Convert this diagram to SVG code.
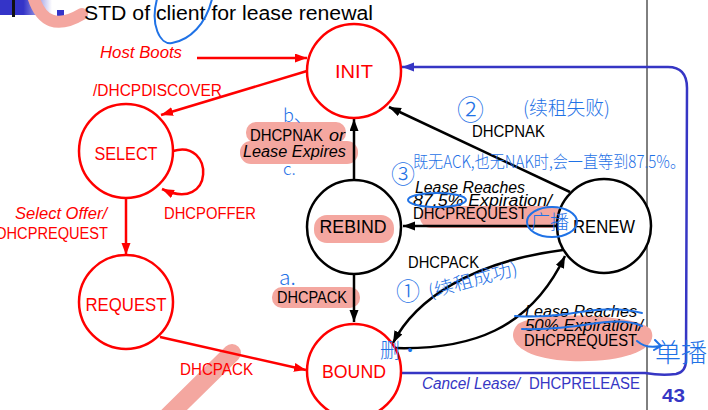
<svg xmlns="http://www.w3.org/2000/svg" width="708" height="410" viewBox="0 0 708 410">
<style>
.t{font-family:"Liberation Sans",Arial,sans-serif;}
.lbl{font-size:16px;}
.node{font-size:19px;text-anchor:middle;}
.red{fill:#ff0000;}
.blk{fill:#000;}
.blu{fill:#3636c4;}
.it{font-style:italic;}
.hand{font-family:"Noto Sans CJK SC",sans-serif;fill:#1f72e6;font-weight:300;}
.hl{fill:#f4a7a0;}
.hs{fill:none;stroke:#1f72e6;stroke-width:2;stroke-linecap:round;}
.cr{fill:#fff;stroke:#ff0000;stroke-width:2.5;}
.cb{fill:#fff;stroke:#000;stroke-width:2.5;}
.lr{fill:none;stroke:#ff0000;stroke-width:2.5;}
.lk{fill:none;stroke:#000;stroke-width:2.5;}
.lb{fill:none;stroke:#3636c4;stroke-width:2.5;stroke-linejoin:round;}
</style>
<defs>
<linearGradient id="g1" x1="0" x2="1" y1="0" y2="0">
<stop offset="0" stop-color="#3434c8"/>
<stop offset="0.45" stop-color="#3434c8"/>
<stop offset="1" stop-color="#ffffff"/>
</linearGradient>
<marker id="ar" markerUnits="userSpaceOnUse" markerWidth="13" markerHeight="10" refX="12" refY="4.5" orient="auto"><path d="M0,0 L12,4.5 L0,9 Z" fill="#ff0000"/></marker>
<marker id="ak" markerUnits="userSpaceOnUse" markerWidth="13" markerHeight="10" refX="12" refY="4.5" orient="auto"><path d="M0,0 L12,4.5 L0,9 Z" fill="#000"/></marker>
<marker id="ab" markerUnits="userSpaceOnUse" markerWidth="13" markerHeight="10" refX="12" refY="4.5" orient="auto"><path d="M0,0 L12,4.5 L0,9 Z" fill="#3636c4"/></marker>
</defs>
<rect width="708" height="410" fill="#fff"/>
<!-- header decoration -->
<rect x="0" y="0" width="52" height="15" fill="url(#g1)"/>
<rect x="12" y="0" width="3" height="17" fill="#111"/>
<rect x="57" y="10" width="7" height="7" fill="#3434c8"/>
<line x1="647" y1="0" x2="647" y2="410" stroke="#000" stroke-width="1"/>
<!-- highlights -->
<g id="highlights">
<path d="M33,-4 Q45,36 82,14" fill="none" stroke="#f4a7a0" stroke-width="12" stroke-linecap="round"/>
<rect class="hl" x="246" y="122" width="100" height="21" rx="10"/>
<rect class="hl" x="240" y="141" width="118" height="23" rx="11"/>
<rect class="hl" x="420" y="206" width="142" height="22" rx="11"/>
<rect class="hl" x="272" y="287" width="88" height="21" rx="10"/>
<path class="hl" d="M518,324 C540,310 640,314 651,330 C660,350 622,363 570,361 C522,359 503,340 518,324 Z"/>
<path d="M232,353 L166,418" fill="none" stroke="#f4a7a0" stroke-width="18" stroke-linecap="round"/>
</g>
<text class="t" x="84" y="20" font-size="20" textLength="289" lengthAdjust="spacingAndGlyphs" fill="#000">STD of client for lease renewal</text>
<!-- connectors -->
<g id="connectors">
<path class="lr" d="M197,58 L307,58" marker-end="url(#ar)"/>
<path class="lr" d="M307,71 L161,115" marker-end="url(#ar)"/>
<path class="lr" d="M173,151 C214,138 216,214 162,189" marker-end="url(#ar)"/>
<path class="lr" d="M126,198 L126,255" marker-end="url(#ar)"/>
<path class="lr" d="M160,337 L306,370" marker-end="url(#ar)"/>
<path class="lk" d="M354,200 L354,119" marker-end="url(#ak)"/>
<path class="lk" d="M354,275 L354,322" marker-end="url(#ak)"/>
<path class="lk" d="M570,192 L389,107" marker-end="url(#ak)"/>
<path class="lk" d="M557,226 L403,226" marker-end="url(#ak)"/>
<path class="lk" d="M563,250 C470,262 415,300 393,343" marker-end="url(#ak)"/>
<path class="lk" d="M395,348 C470,350 530,330 565,256" marker-end="url(#ak)"/>
<path class="lb" d="M401,373 L645,373 Q662,376 676,374 Q686,372 686,360 L687,88 Q687,67 668,67 L402,67" marker-end="url(#ab)"/>
</g>
<!-- nodes -->
<g id="INIT"><circle class="cr" cx="354" cy="71" r="47"/><text class="t node red" x="354" y="78" textLength="38" lengthAdjust="spacingAndGlyphs">INIT</text></g>
<g id="SELECT"><circle class="cr" cx="126" cy="151" r="47"/><text class="t node red" x="126" y="160" textLength="63" lengthAdjust="spacingAndGlyphs">SELECT</text></g>
<g id="REQUEST"><circle class="cr" cx="126" cy="302" r="47"/><text class="t node red" x="126" y="311" textLength="81" lengthAdjust="spacingAndGlyphs">REQUEST</text></g>
<g id="BOUND"><circle class="cr" cx="354" cy="371" r="47"/><text class="t node red" x="354" y="378" textLength="64" lengthAdjust="spacingAndGlyphs">BOUND</text></g>
<g id="REBIND"><circle class="cb" cx="354" cy="227" r="47"/><rect class="hl" x="314" y="215" width="80" height="28" rx="13"/><text class="t node blk" x="353" y="233" textLength="67" lengthAdjust="spacingAndGlyphs">REBIND</text></g>
<g id="RENEW"><circle class="cb" cx="604" cy="226" r="47"/><text class="t node blk" x="604" y="233" textLength="62" lengthAdjust="spacingAndGlyphs">RENEW</text></g>
<!-- labels -->
<g id="labels">
<text class="t lbl red it" x="100" y="58" textLength="82" lengthAdjust="spacingAndGlyphs">Host Boots</text>
<text class="t lbl red" x="93" y="96" textLength="129" lengthAdjust="spacingAndGlyphs">/DHCPDISCOVER</text>
<text class="t lbl red" x="164" y="219" textLength="92" lengthAdjust="spacingAndGlyphs">DHCPOFFER</text>
<text class="t lbl red it" x="15" y="219" textLength="92" lengthAdjust="spacingAndGlyphs">Select Offer/</text>
<text class="t lbl red" x="-4" y="239" textLength="112" lengthAdjust="spacingAndGlyphs">DHCPREQUEST</text>
<text class="t lbl red" x="180" y="375" textLength="73" lengthAdjust="spacingAndGlyphs">DHCPACK</text>
<text class="t lbl blk" x="250" y="141" textLength="73" lengthAdjust="spacingAndGlyphs">DHCPNAK</text>
<text class="t lbl blk it" x="329" y="141" textLength="16" lengthAdjust="spacingAndGlyphs">or</text>
<text class="t lbl blk it" x="243" y="157" textLength="103" lengthAdjust="spacingAndGlyphs">Lease Expires</text>
<text class="t lbl blk" x="472" y="137" textLength="73" lengthAdjust="spacingAndGlyphs">DHCPNAK</text>
<text class="t lbl blk it" x="415" y="193" textLength="110" lengthAdjust="spacingAndGlyphs">Lease Reaches</text>
<text class="t lbl blk it" x="413" y="206" textLength="139" lengthAdjust="spacingAndGlyphs">87.5% Expiration/</text>
<text class="t lbl blk" x="413" y="219" textLength="114" lengthAdjust="spacingAndGlyphs">DHCPREQUEST</text>
<text class="t lbl blk" x="408" y="268" textLength="71" lengthAdjust="spacingAndGlyphs">DHCPACK</text>
<text class="t lbl blk" x="277" y="303" textLength="70" lengthAdjust="spacingAndGlyphs">DHCPACK</text>
<text class="t lbl blk it" x="525" y="317" textLength="112" lengthAdjust="spacingAndGlyphs">Lease Reaches</text>
<text class="t lbl blk it" x="525" y="331" textLength="118" lengthAdjust="spacingAndGlyphs">50% Expiration/</text>
<text class="t lbl blk" x="524" y="346" textLength="113" lengthAdjust="spacingAndGlyphs">DHCPREQUEST</text>
<text class="t lbl blu it" x="422" y="389" textLength="98" lengthAdjust="spacingAndGlyphs">Cancel Lease/</text>
<text class="t lbl blu" x="529" y="389" textLength="111" lengthAdjust="spacingAndGlyphs">DHCPRELEASE</text>
<text class="t blu" x="662" y="402" font-size="18" font-weight="bold" textLength="23" lengthAdjust="spacingAndGlyphs">43</text>
</g>
<!-- handwritten annotations -->
<g id="annotations">
<path class="hs" d="M157,-1 C150,25 160,45 172,43 C190,40 206,24 212,-1"/>
<ellipse class="hs" cx="437" cy="200" rx="29" ry="7"/>
<ellipse class="hs" cx="552" cy="222" rx="25" ry="15"/>
<path class="hs" d="M515,316 Q545,318 580,312 T642,313"/>
<path class="hs" d="M522,329 Q555,330 590,324 T642,326"/>
<path class="hs" d="M637,341 Q646,349 660,346 M655,340 L661,346 L654,350"/>
<text class="hand" x="283" y="122" font-size="18">b、</text>
<text class="hand" x="283" y="175" font-size="17">c.</text>
<text class="hand" x="279" y="285" font-size="21">a.</text>
<text class="hand" x="457" y="120" font-size="27">②</text>
<text class="hand" x="523" y="115" font-size="19" textLength="87" lengthAdjust="spacingAndGlyphs">(续租失败)</text>
<text class="hand" x="391" y="183" font-size="24">③</text>
<text class="hand" x="413" y="168" font-size="17" textLength="272" lengthAdjust="spacingAndGlyphs">既无ACK,也无NAK时,会一直等到87.5%。</text>
<text class="hand" x="531" y="229" font-size="19">广播</text>
<text class="hand" x="396" y="300" font-size="24">①</text>
<text class="hand" x="430" y="298" font-size="18" textLength="92" lengthAdjust="spacingAndGlyphs" transform="rotate(-15 430 298)">(续租成功)</text>
<text class="hand" x="380" y="358" font-size="20">删·</text>
<text class="hand" x="655" y="362" font-size="26">单播</text>
</g>
</svg>
